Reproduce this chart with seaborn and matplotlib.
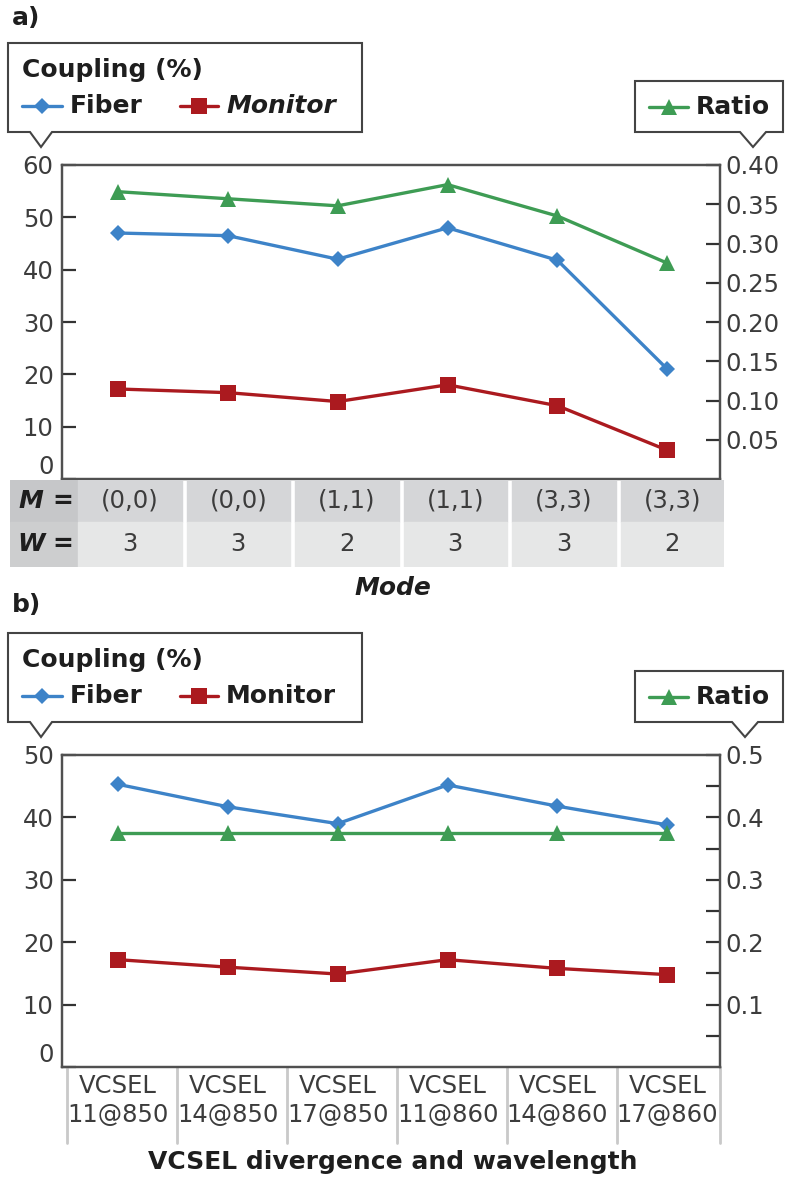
import numpy as np
import pandas as pd
import matplotlib
matplotlib.use("Agg")
import matplotlib.pyplot as plt
import seaborn as sns
from matplotlib.patches import Polygon, Rectangle
from matplotlib.lines import Line2D
import matplotlib.transforms as mtransforms

# ---- data, panel a (modes) ----
mode_m = ["(0,0)", "(0,0)", "(1,1)", "(1,1)", "(3,3)", "(3,3)"]
mode_w = ["3", "3", "2", "3", "3", "2"]
fiber_a = [47.0, 46.5, 42.0, 48.0, 41.8, 21.0]
monitor_a = [17.2, 16.5, 14.8, 18.0, 14.0, 5.5]
ratio_a = [0.366, 0.357, 0.348, 0.375, 0.335, 0.275]

# ---- data, panel b (VCSELs) ----
vcsel_labels = ["VCSEL\n11@850", "VCSEL\n14@850", "VCSEL\n17@850",
                "VCSEL\n11@860", "VCSEL\n14@860", "VCSEL\n17@860"]
fiber_b = [45.3, 41.7, 39.0, 45.2, 41.8, 38.8]
monitor_b = [17.2, 16.0, 14.9, 17.2, 15.8, 14.8]
ratio_b = [0.375, 0.375, 0.375, 0.375, 0.375, 0.375]

BLUE = "#3d83c8"
RED = "#ab1a1f"
GREEN = "#3e9c54"
SPINE = "#505050"
TXT = "#3c3c3c"
DARK = "#1e1e1e"
TICK_FS = 17.5
BOLD_FS = 18

sns.set_style("white")
plt.rcParams["font.family"] = ["DejaVu Sans"]

W, H = 788, 1182
fig = plt.figure(figsize=(W / 100, H / 100), dpi=100)


def fbox(l, t, r, b):
    return [l / W, 1 - b / H, (r - l) / W, (b - t) / H]


def fpt(x, y):
    return (x / W, 1 - y / H)


def draw_panel(ax, df, ylim, yticks, rylim, rmajor, rminor, rfmt):
    sns.lineplot(data=df, x="pos", y="Fiber", ax=ax, color=BLUE, linewidth=2.4,
                 marker="D", markersize=8.5, markeredgewidth=0)
    sns.lineplot(data=df, x="pos", y="Monitor", ax=ax, color=RED, linewidth=2.4,
                 marker="s", markersize=11, markeredgewidth=0)
    rax = ax.twinx()
    sns.lineplot(data=df, x="pos", y="Ratio", ax=rax, color=GREEN, linewidth=2.4,
                 marker="^", markersize=12, markeredgewidth=0)
    for a in (ax, rax):
        a.set_xlabel("")
        a.set_ylabel("")
        for s in a.spines.values():
            s.set_visible(True)
            s.set_color(SPINE)
            s.set_linewidth(1.6)
    ax.set_xlim(-0.51, 5.48)
    ax.set_ylim(*ylim)
    ax.set_yticks(yticks)
    ax.tick_params(axis="y", direction="in", length=10, width=1.6, color="#333333",
                   labelsize=TICK_FS, labelcolor=TXT, pad=6, left=True)
    # the "0" label sits a little higher, clear of what is below the axis
    ax.get_yticklabels()[0].set_verticalalignment("bottom")
    rax.set_ylim(*rylim)
    rax.set_yticks(rmajor)
    rax.set_yticklabels([rfmt % v for v in rmajor])
    if rminor:
        rax.set_yticks(rminor, minor=True)
    rax.tick_params(axis="y", which="both", direction="in", length=10, width=1.6,
                    color="#333333", labelsize=TICK_FS, labelcolor=TXT, pad=4, right=True)
    return rax


def callout(pts):
    fig.add_artist(Polygon([fpt(x, y) for x, y in pts], closed=True,
                           transform=fig.transFigure, facecolor="white",
                           edgecolor="#444444", linewidth=1.5, zorder=5))


def legend_item(x0, x1, y, color, marker, ms, label, tx, italic=False):
    fig.add_artist(Line2D([x0 / W, x1 / W], [1 - y / H] * 2, transform=fig.transFigure,
                          color=color, linewidth=2.4, zorder=6))
    fig.add_artist(Line2D([(x0 + x1) / 2 / W], [1 - y / H], transform=fig.transFigure,
                          color=color, marker=marker, markersize=ms,
                          markeredgewidth=0, zorder=7))
    fig.text(tx / W, 1 - y / H, label, fontsize=BOLD_FS, fontweight="bold",
             style="italic" if italic else "normal", color=DARK,
             ha="left", va="center", zorder=8)


def legends(dy, right_tip):
    callout([(8, 43 + dy), (362, 43 + dy), (362, 132 + dy), (52, 132 + dy),
             (41, 147 + dy), (30, 132 + dy), (8, 132 + dy)])
    callout([(635, 81 + dy), (783, 81 + dy), (783, 132 + dy), (right_tip + 13, 132 + dy),
             (right_tip, 147 + dy), (right_tip - 13, 132 + dy), (635, 132 + dy)])
    fig.text(22 / W, 1 - (70 + dy) / H, "Coupling (%)", fontsize=BOLD_FS,
             fontweight="bold", color=DARK, ha="left", va="center", zorder=8)
    legend_item(22, 62, 106 + dy, BLUE, "D", 8.5, "Fiber", 70)
    legend_item(180, 218, 106 + dy, RED, "s", 11, "Monitor", 226, italic=(dy == 0))
    legend_item(649, 688, 107 + dy, GREEN, "^", 12, "Ratio", 696)


# ---------------- panel a ----------------
df_a = pd.DataFrame({"pos": np.arange(len(mode_m)), "Fiber": fiber_a,
                     "Monitor": monitor_a, "Ratio": ratio_a})
ax_a = fig.add_axes(fbox(62, 165, 720, 479))
draw_panel(ax_a, df_a, (0, 60), np.arange(0, 61, 10), (0, 0.40),
           np.arange(0.05, 0.401, 0.05), None, "%.2f")
ax_a.set_xticks([])

# mode table under panel a
tab = fig.add_axes(fbox(10, 480, 724, 567))
tab.set_xlim(0, 714)
tab.set_ylim(87, 0)
tab.axis("off")
tab.add_patch(Rectangle((0, 0), 67, 42, color="#c6c7c9"))
tab.add_patch(Rectangle((0, 42), 67, 45, color="#cdcecf"))
for yy, lab in ((21, "M"), (64, "W")):
    tab.text(21, yy, lab, fontsize=BOLD_FS, fontweight="bold", style="italic",
             ha="center", va="center", color=DARK)
    tab.text(53, yy, "=", fontsize=BOLD_FS, fontweight="bold", ha="center",
             va="center", color=DARK)
cw, gap = 103.5, 5
for i, (m, w) in enumerate(zip(mode_m, mode_w)):
    x0 = 68 + i * (cw + gap)
    tab.add_patch(Rectangle((x0, 0), cw, 42, color="#d5d6d8"))
    tab.add_patch(Rectangle((x0, 42), cw, 45, color="#e6e7e7"))
    tab.text(x0 + cw / 2, 21, m, fontsize=TICK_FS, ha="center", va="center", color=TXT)
    tab.text(x0 + cw / 2, 64, w, fontsize=TICK_FS, ha="center", va="center", color=TXT)

fig.text(393 / W, 1 - 588 / H, "Mode", fontsize=BOLD_FS, fontweight="bold",
         style="italic", ha="center", va="center", color=DARK)
fig.text(12 / W, 1 - 18 / H, "a)", fontsize=BOLD_FS, fontweight="bold",
         ha="left", va="center", color=DARK)
legends(0, 753)

# ---------------- panel b ----------------
df_b = pd.DataFrame({"pos": np.arange(len(vcsel_labels)), "Fiber": fiber_b,
                     "Monitor": monitor_b, "Ratio": ratio_b})
ax_b = fig.add_axes(fbox(62, 755, 720, 1067))
draw_panel(ax_b, df_b, (0, 50), np.arange(0, 51, 10), (0, 0.5),
           np.arange(0.1, 0.501, 0.1), list(np.arange(0.05, 0.5, 0.1)), "%.1f")
ax_b.set_xticks(df_b["pos"], vcsel_labels)
ax_b.tick_params(axis="x", length=0, labelsize=TICK_FS, labelcolor=TXT, pad=5)
for t in ax_b.get_xticklabels():
    t.set_linespacing(1.25)

# separators between the VCSEL labels
trans = mtransforms.blended_transform_factory(ax_b.transData, ax_b.transAxes)
for xs in list(df_b["pos"] - 0.46) + [5.48]:
    ax_b.add_line(Line2D([xs, xs], [0, -0.245], transform=trans, color="#c9c9c9",
                         linewidth=2, clip_on=False))

fig.text(393 / W, 1 - 1162 / H, "VCSEL divergence and wavelength", fontsize=BOLD_FS,
         fontweight="bold", ha="center", va="center", color=DARK)
fig.text(12 / W, 1 - 605 / H, "b)", fontsize=BOLD_FS, fontweight="bold",
         ha="left", va="center", color=DARK)
legends(590, 745)

fig.savefig("out.png", dpi=100)
